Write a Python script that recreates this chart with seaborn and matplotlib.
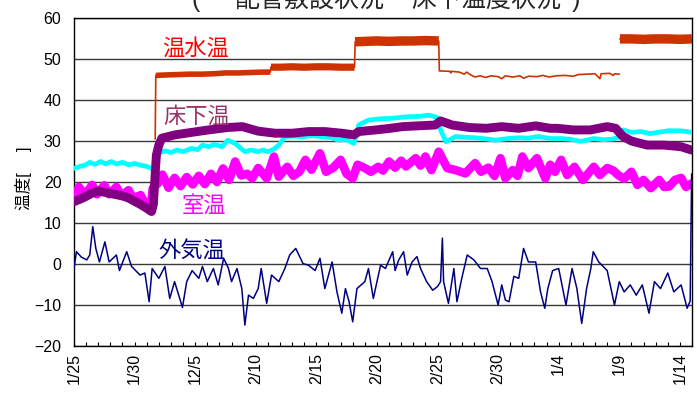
import numpy as np
import pandas as pd
import matplotlib
matplotlib.use("Agg")
import matplotlib.pyplot as plt
from matplotlib.ticker import MultipleLocator, FixedLocator
import seaborn as sns

# ---- data (day index from 1/25) ----
x_labels = ["1/25", "1/30", "12/5", "2/10", "2/15", "2/20", "2/25", "2/30", "1/4", "1/9", "1/14"]
x_label_days = [0, 5, 10, 15, 20, 25, 30, 35, 40, 45, 50]

# hot-water temperature (温水温); run = continuous stretch, piece = noise-band group
hw_day = [6.70, 6.75, 7.5, 8.5, 9.5, 10.5, 11.5, 12.5, 13.5, 14.5, 15.5, 16.2,
          16.25, 17.0, 18.0, 19.0, 20.0, 21.0, 22.0, 23.15,
          23.2, 24.0, 25.0, 26.0, 27.0, 28.0, 29.0, 30.1,
          30.15, 31.0, 31.1, 31.15, 31.8, 32.2, 32.4, 32.8, 33.1, 33.5, 34.0, 34.4,
          35.0, 35.3, 35.6, 36.2, 36.8, 37.1, 37.5, 38.2, 38.7, 39.2, 39.8, 40.5,
          41.2, 41.6, 42.3, 43.0, 43.4, 43.5, 44.2, 44.5, 44.6, 45.0,
          45.05, 46.0, 47.0, 48.0, 49.0, 50.0, 51.0]
hw_temp = [30.5, 46.0, 46.1, 46.2, 46.3, 46.3, 46.4, 46.6, 46.6, 46.7, 46.8, 46.8,
           48.0, 48.0, 48.1, 48.0, 48.1, 48.1, 48.0, 48.0,
           54.2, 54.3, 54.4, 54.3, 54.4, 54.4, 54.5, 54.4,
           47.1, 47.0, 46.6, 47.0, 46.8, 46.3, 46.8, 46.0, 45.6, 45.9, 45.5, 45.9,
           45.7, 45.2, 45.9, 45.6, 45.9, 45.3, 45.8, 45.7, 46.0, 45.6, 45.9, 46.0,
           45.8, 46.2, 46.3, 46.4, 45.2, 46.4, 46.5, 46.0, 46.4, 46.3,
           54.9, 54.9, 54.8, 54.9, 54.9, 54.8, 54.9]
hw_run = [0] * 62 + [1] * 7
hw_piece = (["s"] + ["a"] * 11 + ["b"] * 8 + ["c"] * 8 + ["d"] * 34 + ["e"] * 7)

# underfloor temperature (床下温)
uf_day = [0.0, 0.5, 1.0, 1.5, 2.0, 2.5, 3.0, 3.5, 4.0, 4.5, 5.0, 5.5, 6.0, 6.4,
          6.55, 6.7, 6.8, 7.0, 7.25, 8.35, 9.7, 11.1, 12.7, 13.9, 15.2, 16.6,
          18.0, 19.35, 20.7, 22.1, 23.1, 23.5, 24.9, 26.1, 27.1, 28.4, 29.8,
          30.25, 31.2, 32.6, 34.0, 35.3, 36.7, 38.1, 39.3, 39.9, 41.2, 42.6,
          44.0, 44.7, 45.3, 46.0, 47.3, 48.7, 50.1, 50.95]
uf_temp = [15.2, 15.8, 16.5, 17.3, 17.8, 17.5, 17.2, 16.9, 16.6, 16.1, 15.3, 14.5, 13.6, 12.8,
           14.5, 22.0, 26.6, 29.0, 30.7, 31.5, 32.1, 32.7, 33.3, 33.5, 32.4, 31.9,
           31.9, 32.3, 32.3, 31.9, 31.5, 32.3, 32.7, 33.1, 33.5, 33.7, 33.9,
           34.9, 33.9, 33.3, 33.1, 33.5, 33.1, 33.7, 33.1, 33.1, 32.7, 32.7,
           33.5, 33.1, 31.1, 30.0, 29.0, 29.0, 28.6, 27.8]

# second floor-surface temperature (cyan trace)
fs_day = [0.0, 0.5, 0.9, 1.3, 1.7, 2.2, 2.6, 3.1, 3.5, 4.0, 4.5, 5.0, 5.6, 6.0, 6.4,
          6.6, 7.0, 7.5, 8.0, 8.5, 9.0, 9.7, 10.2, 10.6, 11.1, 11.6, 12.2, 12.7,
          13.3, 13.7, 14.1, 14.6, 15.2, 15.6, 16.0, 16.5, 16.9, 17.4, 18.1, 18.8,
          19.6, 20.7, 21.3, 21.8, 22.4, 23.1, 23.5, 24.3, 25.2, 26.1, 27.4, 28.5,
          29.3, 30.0, 30.25, 30.7, 31.5, 32.3, 33.1, 34.0, 34.8, 35.8, 36.7, 37.5,
          38.3, 39.3, 40.2, 41.0, 41.8, 42.9, 43.7, 44.5, 45.0, 45.3, 46.0, 46.8,
          47.5, 48.2, 49.0, 50.1, 51.0]
fs_temp = [23.3, 23.8, 24.1, 24.8, 24.3, 25.0, 24.4, 25.0, 24.4, 24.8, 24.2, 24.5, 24.0, 23.8, 23.3,
           23.5, 27.0, 27.6, 27.2, 27.8, 27.4, 28.2, 27.9, 29.0, 28.6, 29.2, 28.6, 30.2,
           29.4, 28.4, 27.4, 27.8, 27.4, 27.8, 27.4, 28.0, 29.0, 31.0, 31.2, 31.0,
           31.3, 31.0, 30.8, 30.2, 30.4, 29.4, 33.9, 35.1, 35.4, 35.5, 35.9, 36.0,
           36.3, 35.7, 32.7, 29.8, 31.1, 30.9, 30.8, 30.5, 30.2, 30.6, 30.8, 30.7,
           31.1, 30.6, 30.6, 30.4, 29.9, 30.6, 30.3, 30.5, 31.0, 32.7, 32.1, 32.3,
           31.8, 32.1, 32.5, 32.5, 32.1]

# room temperature (室温)
rm_day = [0.0, 0.4, 0.9, 1.5, 1.9, 2.5, 2.9, 3.5, 3.9, 4.5, 4.9, 5.5, 5.9, 6.3,
          6.5, 6.9, 7.3, 7.8, 8.3, 8.8, 9.3, 9.8, 10.3, 10.8, 11.3, 11.8, 12.3, 12.8,
          13.3, 13.8, 14.3, 14.7, 15.2, 15.9, 16.5, 16.9, 17.6, 18.1, 18.6, 19.1,
          19.6, 20.3, 20.8, 21.4, 22.0, 22.5, 23.0, 23.4, 24.0, 24.5, 25.1, 25.5,
          26.0, 26.5, 27.0, 27.4, 28.2, 28.6, 29.0, 29.5, 30.1, 30.8, 31.5, 32.3,
          33.1, 33.6, 34.2, 34.7, 35.2, 35.6, 36.2, 36.6, 37.0, 37.5, 38.2, 38.9,
          39.3, 39.7, 40.2, 40.7, 41.3, 42.0, 42.5, 42.9, 43.4, 44.0, 44.5, 44.9,
          45.4, 46.0, 46.5, 47.0, 47.6, 48.3, 48.7, 49.1, 49.6, 50.1, 50.5, 51.0]
rm_temp = [15.5, 18.8, 16.8, 19.3, 17.0, 19.2, 17.0, 18.8, 16.6, 18.0, 16.0, 16.8, 14.5, 13.0,
           18.5, 19.6, 21.8, 18.6, 21.0, 19.0, 21.2, 19.4, 21.5, 19.5, 22.0, 20.0, 23.3, 20.5,
           25.0, 21.6, 22.0, 20.9, 23.4, 20.9, 26.2, 21.3, 23.7, 21.5, 22.5, 25.4,
           23.0, 27.0, 22.5, 23.5, 25.4, 22.0, 20.9, 24.2, 23.4, 22.5, 23.7, 22.8,
           25.0, 23.5, 25.2, 23.8, 25.8, 24.0, 26.2, 22.9, 27.4, 23.4, 22.9, 22.1,
           24.6, 22.5, 23.5, 21.5, 25.8, 20.9, 22.9, 21.5, 26.2, 23.4, 25.8, 20.9,
           24.2, 22.5, 25.4, 21.7, 23.7, 20.5, 22.3, 23.7, 21.7, 23.4, 22.8, 21.7,
           20.8, 22.5, 19.3, 20.5, 18.5, 20.5, 18.8, 18.9, 20.5, 21.0, 18.8, 19.7]

# outdoor air temperature (外気温)
oa_day = [0.0, 0.2, 0.6, 1.05, 1.3, 1.55, 1.8, 2.1, 2.55, 2.9, 3.5, 3.75, 4.35, 4.75,
          5.45, 5.85, 6.2, 6.45, 7.0, 7.5, 7.9, 8.3, 8.95, 9.3, 9.75, 10.3, 10.6, 11.0,
          11.5, 11.9, 12.35, 12.75, 13.0, 13.45, 13.85, 14.1, 14.4, 14.8, 15.2, 15.45,
          15.9, 16.3, 16.9, 17.4, 17.8, 18.3, 18.9, 19.35, 19.9, 20.3, 20.7, 21.3,
          21.7, 22.1, 22.4, 22.7, 23.0, 23.35, 24.0, 24.3, 24.7, 25.3, 25.7, 26.3,
          26.5, 26.8, 27.2, 27.5, 27.9, 28.3, 28.6, 29.1, 29.6, 30.0, 30.25, 30.4,
          30.5, 30.9, 31.35, 31.6, 32.0, 32.45, 33.0, 33.55, 34.1, 34.5, 35.0, 35.3,
          35.6, 35.9, 36.3, 36.7, 37.1, 37.5, 38.1, 38.5, 38.85, 39.1, 39.5, 40.0,
          40.6, 41.1, 41.5, 41.9, 42.3, 42.65, 42.85, 43.3, 44.0, 44.6, 45.0, 45.4,
          45.9, 46.4, 46.9, 47.45, 47.9, 48.4, 49.0, 49.5, 50.1, 50.6, 50.85, 50.97]
oa_temp = [-1.1, 3.0, 1.7, 1.0, 2.2, 9.1, 3.8, 0.5, 5.4, 0.5, 2.2, -1.6, 3.0, -0.6,
           -2.7, -2.2, -9.2, -1.1, -3.5, -0.6, -8.4, -4.3, -10.6, -4.3, -1.6, -3.5, -0.6, -4.3,
           -1.1, -5.1, 1.4, -1.1, -4.3, -1.1, -6.0, -14.9, -7.6, -8.4, -6.0, -1.1,
           -9.6, -2.7, -4.3, -1.1, 2.2, 3.8, 0.1, -0.3, -1.6, 1.4, -6.0, 0.5,
           -6.8, -12.0, -6.0, -9.2, -14.1, -6.0, -4.3, -1.1, -8.4, -0.3, -1.1, 3.0,
           -1.6, 1.0, 3.0, -2.7, 0.5, 1.8, -1.1, -4.3, -6.4, -5.5, -4.3, 6.3,
           -4.3, -9.6, -1.1, -9.2, -3.5, 2.2, 1.0, -1.1, -1.1, -4.3, -10.0, -5.1,
           -8.8, -9.2, -3.0, -3.5, 3.8, 0.5, 0.5, -6.8, -10.8, -6.0, -1.6, -1.1,
           -10.0, -1.1, -6.0, -14.5, -6.0, -1.1, 3.0, 0.5, -1.6, -10.0, -4.3, -6.8,
           -5.1, -7.6, -5.1, -12.0, -4.3, -6.0, -2.2, -6.8, -5.1, -10.8, -9.0, 22.0]

# ---- frames for seaborn ----
hw = pd.DataFrame({"day": hw_day, "temp": hw_temp, "run": hw_run, "piece": hw_piece})
uf = pd.DataFrame({"day": uf_day, "temp": uf_temp})
fs = pd.DataFrame({"day": fs_day, "temp": fs_temp})
rm = pd.DataFrame({"day": rm_day, "temp": rm_temp})
oa = pd.DataFrame({"day": oa_day, "temp": oa_temp})

sns.set_theme(style="white")
plt.rcParams["font.family"] = ["Liberation Sans", "Noto Sans CJK JP", "DejaVu Sans"]

W, H = 697, 394
fig = plt.figure(figsize=(W / 100, H / 100), dpi=100)
ax = fig.add_axes([74 / W, 1 - 346 / H, (692 - 74) / W, (346 - 18) / H])

common = dict(x="day", y="temp", estimator=None, sort=False, legend=False, ax=ax)

sns.lineplot(data=rm, color="#FF00FF", linewidth=6.2, zorder=3, **common)
sns.lineplot(data=fs, color="#00FFFF", linewidth=3.4, zorder=4, **common)

# hot water: thin trace for the whole record, heavier band where it fluctuates
sns.lineplot(data=hw, units="run", color="#CC3300", linewidth=1.2, zorder=5, **common)
band_width = {"a": 4.0, "b": 5.2, "c": 6.8, "e": 6.8}
for piece, lw in band_width.items():
    sns.lineplot(data=hw[hw["piece"] == piece], color="#CC3300", linewidth=lw,
                 solid_capstyle="butt", zorder=5, **common)

sns.lineplot(data=uf, color="#800080", linewidth=6.4, zorder=6, **common)
sns.lineplot(data=oa, color="#000080", linewidth=1.1, zorder=7, **common)

# ---- axes styling ----
ax.set_xlim(0, 51)
ax.set_ylim(-20, 60)
ax.yaxis.set_major_locator(MultipleLocator(10))
ax.xaxis.set_major_locator(FixedLocator(x_label_days))
ax.xaxis.set_minor_locator(MultipleLocator(1))
ax.set_xticklabels(x_labels, rotation=90)
ax.set_xlabel("")
ax.set_ylabel("")
ax.grid(axis="y", color="#3a3a3a", linewidth=1.0)
ax.set_axisbelow(True)
for s in ax.spines.values():
    s.set_color("black")
    s.set_linewidth(1.0)
ax.tick_params(axis="y", length=0, pad=9, labelsize=11.5, colors="black")
ax.tick_params(axis="x", which="both", direction="in", length=3, width=0.8,
               color="black", pad=5, labelsize=11.5, labelcolor="black", bottom=True)

# series labels
lab = dict(fontsize=16, ha="center", va="center", zorder=8)
ax.text(10.0, 52.4, "温水温", color="#FF0000", **lab)
ax.text(10.1, 35.8, "床下温", color="#993366", **lab)
ax.text(10.7, 14.0, "室温", color="#FF00FF", **lab)
ax.text(9.7, 3.1, "外気温", color="#000080", **lab)

# y-axis caption
fig.text(24 / W, 1 - 178 / H, "温度[ 　]", rotation=90, fontsize=12,
         ha="center", va="center", color="black")

# heading (runs off the top edge)
head_y = 1 - 7 / H
fig.text(196 / W, head_y, "(", fontsize=18, ha="center", va="baseline")
fig.text(310 / W, head_y, "配管敷設状況", fontsize=18, ha="center", va="baseline")
fig.text(486 / W, head_y, "床下温度状況", fontsize=18, ha="center", va="baseline")
fig.text(576 / W, head_y, ")", fontsize=18, ha="center", va="baseline")

fig.savefig("out.png", dpi=100)
